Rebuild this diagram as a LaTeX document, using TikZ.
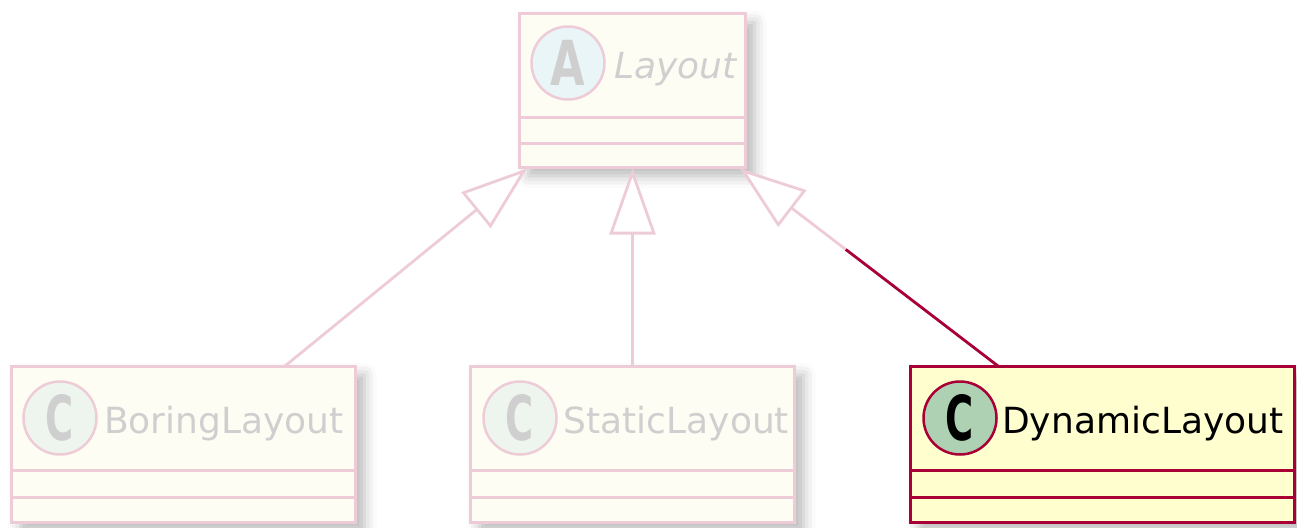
\documentclass[tikz,border=0pt]{standalone}
\usepackage{fontspec}
\setmainfont{DejaVu Sans}
\usetikzlibrary{arrows.meta,shadows.blur,calc}

\definecolor{umlred}{HTML}{A80036}
\definecolor{umlfill}{HTML}{FEFECE}
\definecolor{umlcirc}{HTML}{ADD1B2}
\definecolor{fadeborder}{HTML}{EECCD7}
\definecolor{fadefill}{HTML}{FEFDF3}
\definecolor{fadecircC}{HTML}{EEF5EF}
\definecolor{fadecircA}{HTML}{EAF5F7}
\definecolor{fadetext}{HTML}{CFCFCF}

\newcommand{\badgeletter}[2]{\scalebox{#1}[1]{\fontsize{62}{62}\selectfont\bfseries #2}}

\begin{document}
\begin{tikzpicture}[x=1pt,y=-1pt,
  classbox/.style={rectangle, draw, line width=3pt, inner sep=0pt, outer sep=0pt,
    blur shadow={shadow xshift=9pt, shadow yshift=-9pt, shadow blur radius=12pt, shadow opacity=28}},
  fadedbox/.style={classbox, draw=fadeborder, fill=fadefill},
  activebox/.style={classbox, draw=umlred, fill=umlfill},
  badge/.style={circle, draw, line width=2.5pt, minimum size=73pt, inner sep=0pt},
  fadedbadge/.style={badge, draw=fadeborder, text=fadetext},
  activebadge/.style={badge, draw=umlred, fill=umlcirc, text=black},
  classname/.style={anchor=base west, inner sep=0pt, font=\fontsize{36}{43}\selectfont},
  fadedsep/.style={draw=fadeborder, line width=3pt},
  activesep/.style={draw=umlred, line width=3pt},
  inherit/.style={line width=2.8pt, -{Triangle[fill=white, length=66pt, width=46pt]}},
]

\useasboundingbox (0,0) rectangle (1297,527);

% class boxes
\node[fadedbox, minimum width=226pt, minimum height=153.5pt] (layout) at (632.5,90.25) {};
\node[fadedbox, minimum width=344pt, minimum height=156pt] (boring) at (183.5,444) {};
\node[fadedbox, minimum width=324pt, minimum height=156pt] (static) at (632.5,444) {};
\node[activebox, minimum width=384pt, minimum height=156pt] (dynamic) at (1102,444) {};

% compartment separators
\draw[fadedsep] (layout.west |- 0,117) -- (layout.east |- 0,117);
\draw[fadedsep] (layout.west |- 0,143) -- (layout.east |- 0,143);
\foreach \n in {boring,static}{
  \draw[fadedsep] (\n.west |- 0,470) -- (\n.east |- 0,470);
  \draw[fadedsep] (\n.west |- 0,497) -- (\n.east |- 0,497);
}
\draw[activesep] (dynamic.west |- 0,470) -- (dynamic.east |- 0,470);
\draw[activesep] (dynamic.west |- 0,497) -- (dynamic.east |- 0,497);

% headers
\node[fadedbadge, fill=fadecircA] (layoutbadge) at (568,63) {\badgeletter{0.72}{A}};
\node[classname, text=fadetext, font=\fontsize{36}{43}\selectfont\itshape] (layoutname) at (614,78) {Layout};

\node[fadedbadge, fill=fadecircC] (boringbadge) at (60,418) {\badgeletter{0.62}{C}};
\node[classname, text=fadetext] (boringname) at (104,433) {BoringLayout};

\node[fadedbadge, fill=fadecircC] (staticbadge) at (520,418) {\badgeletter{0.62}{C}};
\node[classname, text=fadetext] (staticname) at (563.5,433) {StaticLayout};

\node[activebadge] (dynamicbadge) at (960,418) {\badgeletter{0.62}{C}};
\node[classname, text=black] (dynamicname) at (1002,433) {DynamicLayout};

% inheritance connectors
\coordinate (tipL) at ([shift={(-105.5,1.5)}]layout.south);
\coordinate (tipM) at ([shift={(0,1.5)}]layout.south);
\coordinate (tipR) at ([shift={(107.5,1.5)}]layout.south);
\coordinate (srcL) at ([xshift=101.5pt]boring.north);
\coordinate (srcM) at (static.north);
\coordinate (srcR) at ([xshift=-104pt]dynamic.north);
\coordinate (bendR) at ($(srcR)!0.59!(tipR)$);

\draw[inherit, fadeborder] (srcL) -- (tipL);
\draw[inherit, fadeborder] (srcM) -- (tipM);
\draw[inherit, fadeborder] (bendR) -- (tipR);
\draw[umlred, line width=2.8pt] (srcR) -- (bendR);
\end{tikzpicture}
\end{document}
